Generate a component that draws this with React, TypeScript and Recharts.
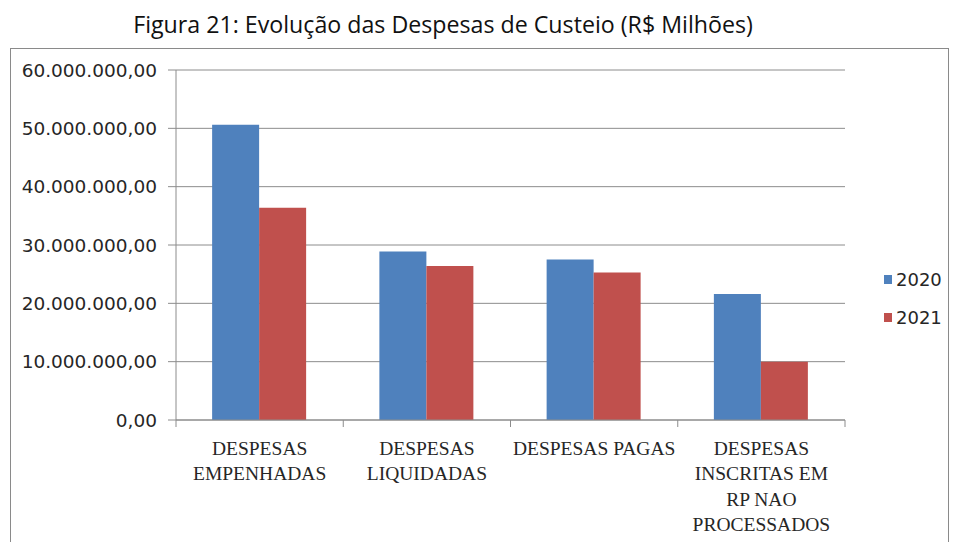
import React from "react";
import { BarChart, Bar, XAxis, YAxis, CartesianGrid, Legend } from "recharts";

const categories = [
  "DESPESAS EMPENHADAS",
  "DESPESAS LIQUIDADAS",
  "DESPESAS PAGAS",
  "DESPESAS INSCRITAS EM RP NAO PROCESSADOS",
];
const categoryLines = [
  ["DESPESAS", "EMPENHADAS"],
  ["DESPESAS", "LIQUIDADAS"],
  ["DESPESAS PAGAS"],
  ["DESPESAS", "INSCRITAS EM", "RP NAO", "PROCESSADOS"],
];
const values2020 = [50600000, 28900000, 27500000, 21600000];
const values2021 = [36400000, 26400000, 25300000, 10000000];
const yTicks = [0, 10000000, 20000000, 30000000, 40000000, 50000000, 60000000];
const seriesNames = ["2020", "2021"];
const seriesColors = ["#4F81BD", "#C0504D"];

const data = categories.map((c, i) => ({
  name: c,
  v2020: values2020[i],
  v2021: values2021[i],
}));

const fmt = (v: number) => {
  const s = Math.round(v).toString();
  const withDots = s.replace(/\B(?=(\d{3})+(?!\d))/g, ".");
  return withDots + ",00";
};

const XTick = (props: any) => {
  const { x, y, index, payload, visibleTicksCount } = props;
  const lines = categoryLines[index] || [];
  const half = payload && typeof payload.offset === "number" ? payload.offset : 0;
  const axisY = y - 8;
  const isLast = index === (visibleTicksCount ?? categories.length) - 1;
  return (
    <g>
      {half > 0 && (
        <line x1={x - half} x2={x - half} y1={axisY} y2={axisY + 7} stroke="#8c8c8c" />
      )}
      {half > 0 && isLast && (
        <line x1={x + half} x2={x + half} y1={axisY} y2={axisY + 7} stroke="#8c8c8c" />
      )}
      <text
        x={x}
        y={y}
        textAnchor="middle"
        fill="#262626"
        fontFamily="'Liberation Serif', serif"
        fontSize={19.5}
      >
        {lines.map((l, i) => (
          <tspan key={i} x={x} dy={i === 0 ? 27 : 25.3}>
            {l}
          </tspan>
        ))}
      </text>
    </g>
  );
};

const LegendContent = () => (
  <div style={{ fontFamily: "'DejaVu Sans', sans-serif", fontSize: 18, color: "#262626" }}>
    {seriesNames.map((n, i) => (
      <div key={n} style={{ display: "flex", alignItems: "center", height: 37.5 }}>
        <span
          style={{
            display: "inline-block",
            width: 8,
            height: 9,
            background: seriesColors[i],
            marginRight: 4,
          }}
        />
        <span>{n}</span>
      </div>
    ))}
  </div>
);

export default function App() {
  return (
    <div
      style={{
        position: "absolute",
        left: 0,
        top: 0,
        width: 954,
        height: 542,
        background: "#fff",
        overflow: "hidden",
      }}
    >
      <div
        style={{
          position: "absolute",
          left: 0,
          width: 886,
          top: 8,
          textAlign: "center",
          fontFamily: "'Open Sans', sans-serif",
          fontSize: 23.2,
          color: "#111",
          whiteSpace: "nowrap",
        }}
      >
        Figura 21: Evolução das Despesas de Custeio (R$ Milhões)
      </div>
      <div
        style={{
          position: "absolute",
          left: 10,
          top: 48,
          width: 937,
          height: 560,
          border: "1px solid #8a8a8a",
        }}
      />
      <div style={{ position: "absolute", left: 0, top: 0 }}>
        <BarChart
          width={954}
          height={542}
          data={data}
          margin={{ top: 70, right: 39, bottom: 0, left: 16 }}
          barCategoryGap="21.6%"
          barGap={0}
        >
          <CartesianGrid vertical={false} stroke="#8c8c8c" strokeWidth={1} />
          <XAxis
            dataKey="name"
            interval={0}
            height={122}
            tickLine={false}
            tickSize={6}
            tickMargin={2}
            axisLine={{ stroke: "#8c8c8c" }}
            tick={<XTick />}
          />
          <YAxis
            width={160}
            domain={[0, 60000000]}
            ticks={yTicks}
            tickFormatter={fmt}
            axisLine={{ stroke: "#8c8c8c" }}
            tickLine={{ stroke: "#8c8c8c" }}
            tickSize={8}
            tickMargin={11}
            tick={{ fill: "#262626", fontFamily: "'DejaVu Sans', sans-serif", fontSize: 18.5 }}
          />
          <Legend
            layout="vertical"
            verticalAlign="middle"
            align="right"
            content={<LegendContent />}
            wrapperStyle={{ position: "absolute", left: 884, top: 261, width: 70 }}
          />
          <Bar dataKey="v2020" name={seriesNames[0]} fill={seriesColors[0]} isAnimationActive={false} />
          <Bar dataKey="v2021" name={seriesNames[1]} fill={seriesColors[1]} isAnimationActive={false} />
        </BarChart>
      </div>
    </div>
  );
}
